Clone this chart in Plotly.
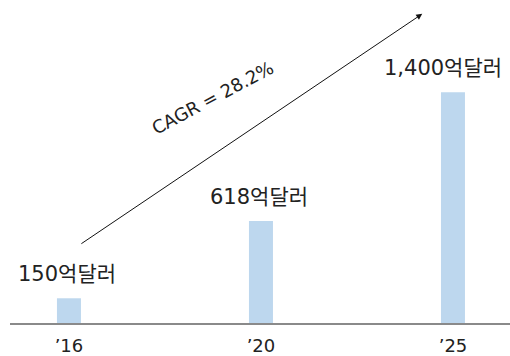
import plotly.graph_objects as go

categories = ["’16", "’20", "’25"]
values = [150, 618, 1400]
value_labels = ["150억달러", "618억달러", "1,400억달러"]
cagr_text = "CAGR = 28.2%"

FONT = "DejaVu Sans, Noto Sans CJK KR, sans-serif"

fig = go.Figure()
fig.add_trace(go.Bar(
    x=categories, y=values, width=0.125,
    marker=dict(color="#BDD7EE", line=dict(width=0)),
    hoverinfo="skip",
))

for i, (c, v, t) in enumerate(zip(categories, values, value_labels)):
    fig.add_annotation(
        x=c, y=v, text=t, showarrow=False, xref="x", yref="y",
        yanchor="bottom", yshift=10,
        xshift=-10 if i == len(categories) - 1 else -2,
        font=dict(family=FONT, size=21, color="#222222"),
    )

# CAGR arrow (tail near first bar, head above last bar)
fig.add_annotation(
    x=1.84, y=1875, ax=0.057, ay=475, xref="x", yref="y", axref="x", ayref="y",
    text="", showarrow=True, arrowhead=2, arrowsize=1.2, arrowwidth=1,
    arrowcolor="#111111",
)
fig.add_annotation(
    x=0.75, y=1370, xref="x", yref="y", text=cagr_text, showarrow=False,
    textangle=-28, font=dict(family=FONT, size=18, color="#222222"),
)

fig.update_layout(
    width=510, height=356,
    margin=dict(l=10, r=0, t=0, b=30),
    paper_bgcolor="white", plot_bgcolor="white",
    showlegend=False,
    xaxis=dict(
        type="category", range=[-0.307, 2.297],
        showline=True, linecolor="#8a8a8a", linewidth=2,
        showgrid=False, zeroline=False, ticks="",
        ticklabelstandoff=5,
        tickfont=dict(family=FONT, size=18, color="#222222"),
    ),
    yaxis=dict(range=[0, 1959], visible=False),
)

fig.write_html("out.html")
